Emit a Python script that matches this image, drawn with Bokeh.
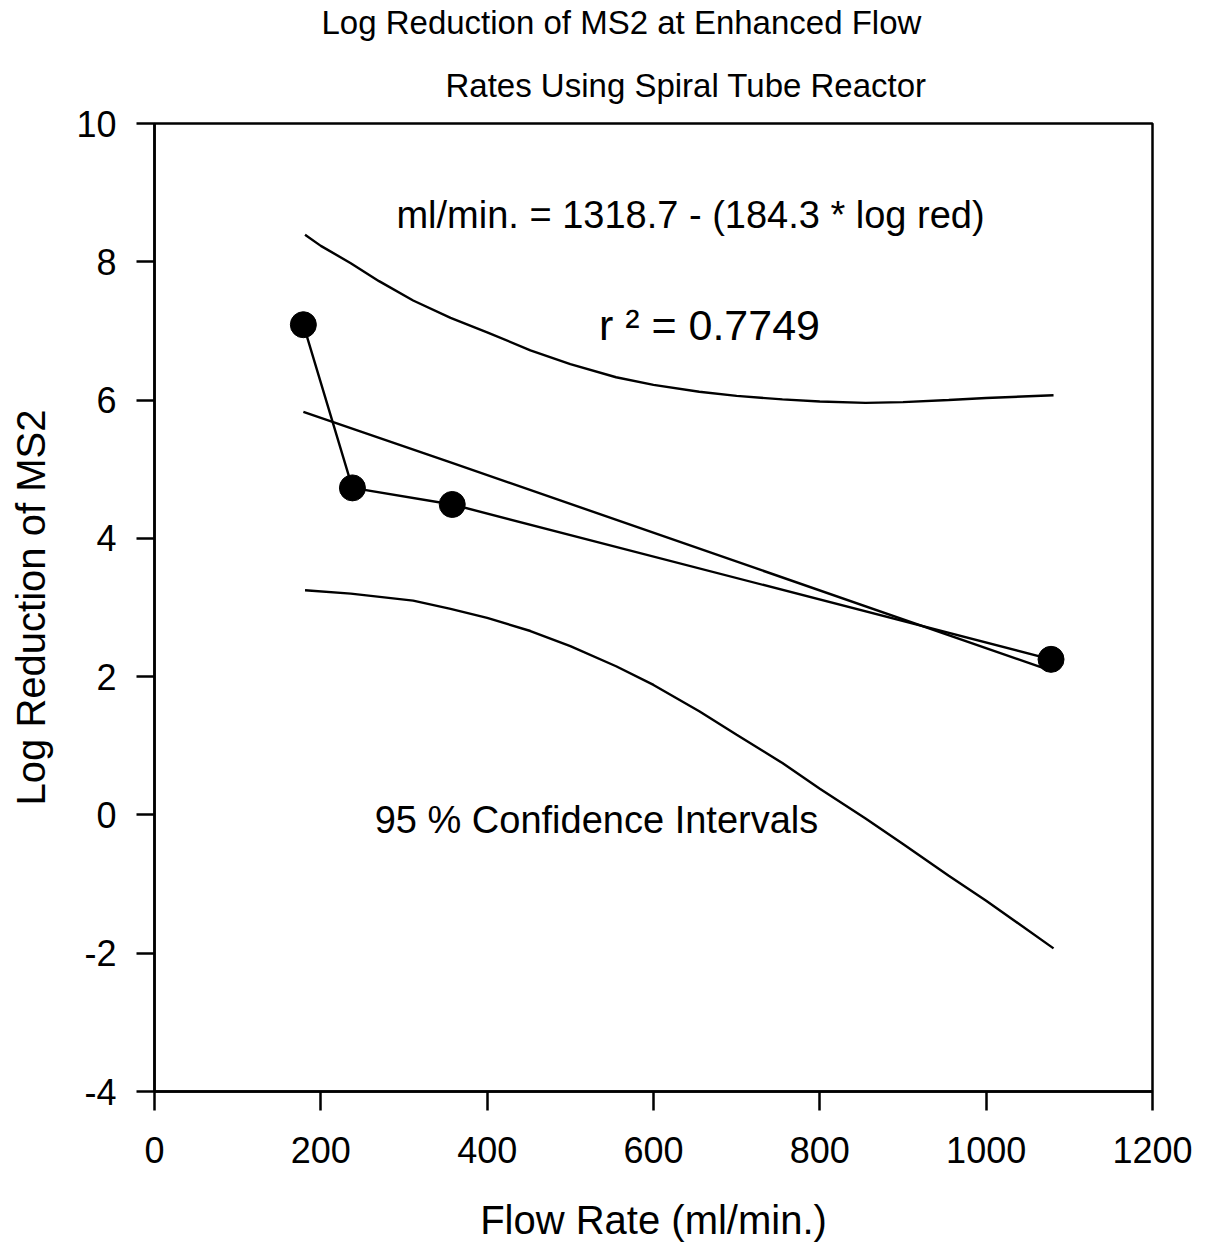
from bokeh.plotting import figure
from bokeh.models import Label, FixedTicker, Range1d, Title
from bokeh.embed import file_html
from bokeh.resources import INLINE

# Data
flow_rate = [179, 238, 358, 1078]
log_red = [7.09, 4.73, 4.49, 2.25]

reg_x = [179, 356, 1077]
reg_y = [5.83, 5.10, 2.09]

upper_x = [181, 200, 236, 270, 311, 356, 400, 452, 500, 555, 600, 655, 700, 755, 800, 855, 900, 955, 1000, 1081]
upper_y = [8.39, 8.23, 7.98, 7.72, 7.44, 7.19, 6.98, 6.72, 6.52, 6.33, 6.22, 6.12, 6.06, 6.01, 5.98, 5.96, 5.97, 6.00, 6.03, 6.07]

lower_x = [181, 236, 311, 356, 400, 452, 500, 555, 600, 655, 700, 755, 800, 855, 900, 955, 1000, 1081]
lower_y = [3.25, 3.20, 3.10, 2.98, 2.85, 2.66, 2.44, 2.15, 1.88, 1.50, 1.16, 0.75, 0.38, -0.05, -0.42, -0.88, -1.24, -1.93]

x_ticks = [0, 200, 400, 600, 800, 1000, 1200]
y_ticks = [-4, -2, 0, 2, 4, 6, 8, 10]
y_tick_text = {-4: "-4", -2: "-2"}

title_lines = ["Log Reduction of MS2 at Enhanced Flow", "Rates Using Spiral Tube Reactor"]

FONT = "Liberation Sans"

p = figure(width=1209, height=1245, output_backend="svg", toolbar_location=None,
           x_range=Range1d(0, 1200), y_range=Range1d(-4, 10),
           min_border_left=154, min_border_right=57, min_border_top=123, min_border_bottom=154)

p.xgrid.visible = False
p.ygrid.visible = False
p.outline_line_color = "black"
p.outline_line_width = 2.5
p.background_fill_color = "white"
p.border_fill_color = "white"

for ax in (p.xaxis[0], p.yaxis[0]):
    ax.axis_line_width = 2.5
    ax.axis_line_color = "black"
    ax.major_tick_line_width = 2.5
    ax.major_tick_line_color = "black"
    ax.major_tick_in = 0
    ax.minor_tick_line_color = None
    ax.major_label_text_font = FONT
    ax.major_label_text_font_size = "36px"
    ax.major_label_text_color = "black"
    ax.axis_label_text_font = FONT
    ax.axis_label_text_font_size = "40px"
    ax.axis_label_text_font_style = "normal"
    ax.axis_label_text_color = "black"

p.xaxis.ticker = FixedTicker(ticks=x_ticks)
p.yaxis.ticker = FixedTicker(ticks=y_ticks)
p.yaxis.major_label_overrides = y_tick_text
p.xaxis.major_tick_out = 19
p.yaxis.major_tick_out = 18
p.xaxis.major_label_standoff = 26
p.yaxis.major_label_standoff = 20
p.xaxis.axis_label = "Flow Rate (ml/min.)"
p.yaxis.axis_label = "Log Reduction of MS2"
p.xaxis.axis_label_standoff = 32
p.yaxis.axis_label_standoff = 20

# Title lines (second line nearest to frame is added first)
p.add_layout(Title(text=title_lines[1], align="left", offset=291, text_font=FONT,
                   text_font_size="33px", text_font_style="normal", text_color="black",
                   standoff=39, vertical_align="bottom"), "above")
p.add_layout(Title(text=title_lines[0], align="left", offset=167, text_font=FONT,
                   text_font_size="33px", text_font_style="normal", text_color="black",
                   standoff=6, vertical_align="top"), "above")

# Curves
p.line(upper_x, upper_y, line_color="black", line_width=2.4)
p.line(lower_x, lower_y, line_color="black", line_width=2.4)
p.line(reg_x, reg_y, line_color="black", line_width=2.4)
p.line(flow_rate, log_red, line_color="black", line_width=2.4)
p.scatter(flow_rate, log_red, size=26, fill_color="black", line_color="black")

# Texts
def add_label(x, y, text, size):
    p.add_layout(Label(x=x, y=y, text=text, text_font=FONT, text_font_size=size,
                       text_align="center", text_baseline="middle", text_color="black"))

add_label(644.5, 8.68, "ml/min. = 1318.7 - (184.3 * log red)", "38px")
add_label(667.3, 7.08, "r ² = 0.7749", "43px")
add_label(531.4, -0.08, "95 % Confidence Intervals", "38px")

open("out.html", "w").write(file_html(p, INLINE))
